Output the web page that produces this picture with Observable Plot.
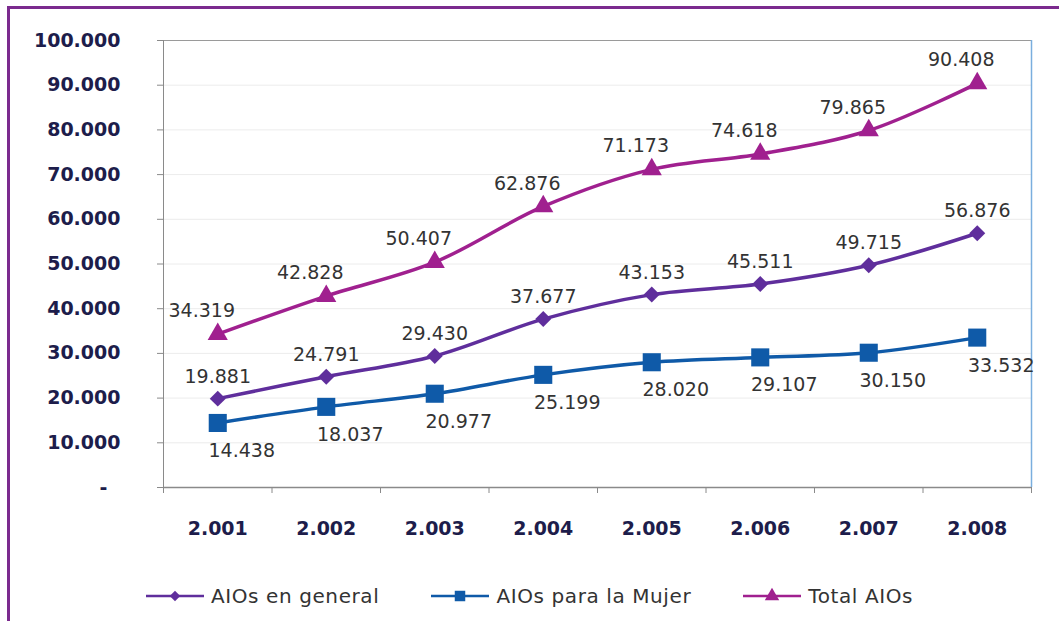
<!DOCTYPE html>
<html>
<head>
<meta charset="utf-8">
<script src="https://cdn.jsdelivr.net/npm/d3@7"></script>
<script src="https://cdn.jsdelivr.net/npm/@observablehq/plot@0.6"></script>
<style>
  html, body { margin: 0; padding: 0; background: #fff; }
  body { width: 1059px; height: 621px; position: relative; overflow: hidden; font-family: "DejaVu Sans", sans-serif; }
  #frame { position: absolute; left: 7px; top: 6px; width: 1100px; height: 700px; border-left: 3px solid #7b2a8e; border-top: 3px solid #7b2a8e; pointer-events: none; }
  #chart { position: absolute; left: 0; top: 0; }
  #legend { position: absolute; left: 0; top: 584px; width: 1059px; display: flex; justify-content: center; gap: 52px; font-size: 20px; letter-spacing: 0.6px; color: #333; }
  .item { display: flex; align-items: center; gap: 7px; }
</style>
</head>
<body>
<div id="chart"></div>
<div id="legend"></div>
<div id="frame"></div>
<script>
const years = [2001, 2002, 2003, 2004, 2005, 2006, 2007, 2008];
const general = [19881, 24791, 29430, 37677, 43153, 45511, 49715, 56876];
const mujer = [14438, 18037, 20977, 25199, 28020, 29107, 30150, 33532];
const total = [34319, 42828, 50407, 62876, 71173, 74618, 79865, 90408];
const seriesNames = ["AIOs en general", "AIOs para la Mujer", "Total AIOs"];
const yTicks = [0, 10000, 20000, 30000, 40000, 50000, 60000, 70000, 80000, 90000, 100000];

const colors = {"AIOs en general": "#5f2e9c", "AIOs para la Mujer": "#0f5aa8", "Total AIOs": "#a0208f"};
const symbols = {"AIOs en general": "diamond2", "AIOs para la Mujer": "square", "Total AIOs": "triangle"};

const loc = d3.formatLocale({decimal: ",", thousands: ".", grouping: [3], currency: ["", "€"]});
const fmt = loc.format(",");
const fmtY = d => d === 0 ? "-\u2007" : fmt(d);

const rows = (name, vals) => years.map((y, i) => ({year: y, value: vals[i], series: name}));
const gRows = rows(seriesNames[0], general);
const mRows = rows(seriesNames[1], mujer);
const tRows = rows(seriesNames[2], total);

const bounds = years.map(y => y - 0.5).concat([years[years.length - 1] + 0.5]);
const font = "'DejaVu Sans', sans-serif";

function seriesMarks(data, name, r, dx, dy) {
  return [
    Plot.line(data, {x: "year", y: "value", stroke: colors[name], strokeWidth: 3.5, curve: "catmull-rom"}),
    Plot.dot(data, {x: "year", y: "value", symbol: symbols[name], r, fill: colors[name], stroke: "none"}),
    Plot.text(data, {x: "year", y: "value", text: d => fmt(d.value), dx, dy, fontSize: 19, fill: "#333"})
  ];
}

const chart = Plot.plot({
  width: 1059,
  height: 560,
  marginLeft: 163,
  marginRight: 28,
  marginTop: 40,
  marginBottom: 73,
  x: {type: "linear", domain: [bounds[0], bounds[bounds.length - 1]]},
  y: {domain: [0, 100000]},
  style: {fontFamily: font, background: "transparent", overflow: "visible"},
  marks: [
    Plot.gridY(yTicks.slice(1, -1), {stroke: "#ececec", strokeOpacity: 1}),
    Plot.ruleY([yTicks[yTicks.length - 1]], {stroke: "#9a9a9a"}),
    Plot.ruleX([bounds[bounds.length - 1]], {stroke: "#7aaede", strokeWidth: 1.5}),
    Plot.ruleX([bounds[0]], {stroke: "#8a8a8a"}),
    Plot.ruleY([0], {stroke: "#8a8a8a", strokeWidth: 1.5}),
    Plot.axisY({ticks: yTicks, tickSize: 6, tickPadding: 37, tickFormat: fmtY, fontSize: 19, fontWeight: "bold", fill: "#1d1d4b", stroke: "#8a8a8a", label: null}),
    Plot.axisX({ticks: bounds, tickSize: 6, tickFormat: () => "", stroke: "#8a8a8a", label: null}),
    Plot.axisX({ticks: years, tickSize: 0, tickPadding: 34, tickFormat: fmt, fontSize: 19, fontWeight: "bold", fill: "#1d1d4b", label: null}),
    ...seriesMarks(tRows, seriesNames[2], 7.5, -16, -23),
    ...seriesMarks(gRows, seriesNames[0], 7.2, 0, -22),
    ...seriesMarks(mRows, seriesNames[1], 10.2, 24, 28)
  ]
});
document.getElementById("chart").appendChild(chart);

// Legend
const legend = document.getElementById("legend");
const symPaths = {
  "diamond2": d3.symbol(d3.symbolDiamond2, 70)(),
  "square": d3.symbol(d3.symbolSquare, 110)(),
  "triangle": d3.symbol(d3.symbolTriangle, 90)()
};
seriesNames.forEach(name => {
  const item = document.createElement("div");
  item.className = "item";
  const c = colors[name];
  item.innerHTML = `<svg width="58" height="20" viewBox="0 0 58 20"><line x1="0" y1="10" x2="58" y2="10" stroke="${c}" stroke-width="2.5"/><path d="${symPaths[symbols[name]]}" transform="translate(29,10)" fill="${c}"/></svg><span>${name}</span>`;
  legend.appendChild(item);
});
</script>
</body>
</html>
